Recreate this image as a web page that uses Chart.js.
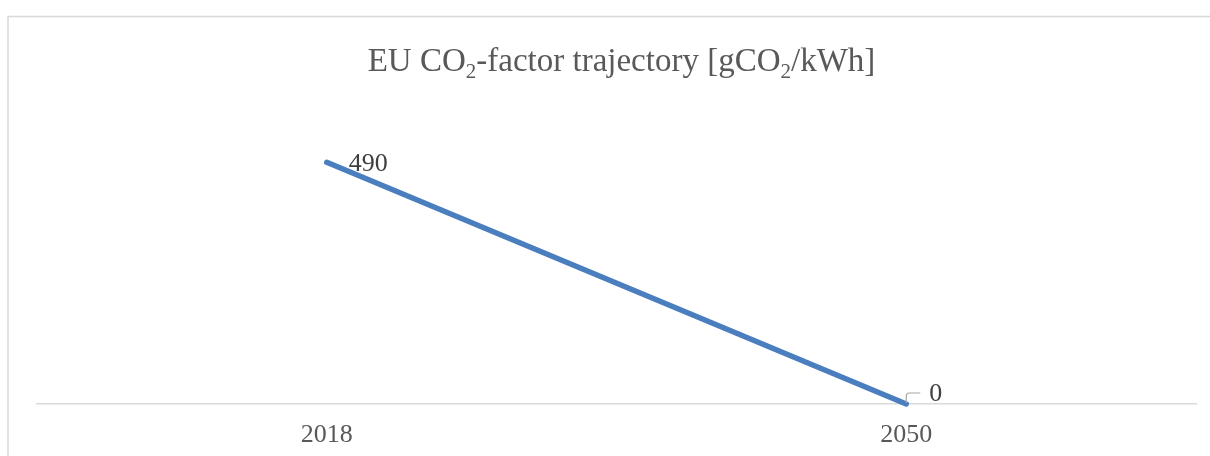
<!DOCTYPE html>
<html>
<head>
<meta charset="utf-8">
<script src="https://cdn.jsdelivr.net/npm/chart.js@4.4.1/dist/chart.umd.min.js"></script>
<style>
  html, body { margin: 0; padding: 0; background: #ffffff; }
  #wrap { width: 1210px; height: 456px; position: relative; }
</style>
</head>
<body>
<div id="wrap"><canvas id="c" width="1210" height="456"></canvas></div>
<script>
// Series data
const years = ['2018', '2050'];
const co2Factor = [490, 0];
const yMax = 600;

// Title pieces: [text, isSubscript]
const titleParts = [
  ['EU CO', false], ['2', true], ['-factor trajectory [gCO', false], ['2', true], ['/kWh]', false]
];

const SERIF = '"Liberation Serif", "DejaVu Serif", serif';

// White background and the light frame of the chart box
const framePlugin = {
  id: 'frame',
  beforeDraw(chart) {
    const ctx = chart.ctx;
    ctx.save();
    ctx.fillStyle = '#ffffff';
    ctx.fillRect(0, 0, chart.width, chart.height);
    ctx.strokeStyle = '#d9d9d9';
    ctx.lineWidth = 1.5;
    ctx.beginPath();
    ctx.moveTo(8, chart.height + 5);
    ctx.lineTo(8, 16.5);
    ctx.lineTo(chart.width + 5, 16.5);
    ctx.stroke();
    ctx.restore();
  }
};

// Title with subscripted "2"
const titlePlugin = {
  id: 'subTitle',
  afterDraw(chart) {
    const ctx = chart.ctx;
    const size = 33;
    const subSize = Math.round(size * 0.64);
    const mainFont = size + 'px ' + SERIF;
    const subFont = subSize + 'px ' + SERIF;
    ctx.save();
    let total = 0;
    titleParts.forEach(([t, sub]) => {
      ctx.font = sub ? subFont : mainFont;
      total += ctx.measureText(t).width;
    });
    let x = 621.5 - total / 2;
    const baseY = 71;
    ctx.fillStyle = '#595959';
    ctx.textBaseline = 'alphabetic';
    ctx.textAlign = 'left';
    titleParts.forEach(([t, sub]) => {
      ctx.font = sub ? subFont : mainFont;
      ctx.fillText(t, x, sub ? baseY + size * 0.2 : baseY);
      x += ctx.measureText(t).width;
    });
    ctx.restore();
  }
};

// Value labels beside each point; the last one gets a small leader line
const valueLabelPlugin = {
  id: 'valueLabels',
  afterDatasetsDraw(chart) {
    const ctx = chart.ctx;
    const meta = chart.getDatasetMeta(0);
    ctx.save();
    ctx.font = '26px ' + SERIF;
    ctx.fillStyle = '#404040';
    ctx.textAlign = 'left';
    ctx.textBaseline = 'middle';
    meta.data.forEach((pt, i) => {
      const v = chart.data.datasets[0].data[i];
      if (i === meta.data.length - 1) {
        ctx.strokeStyle = '#a6a6a6';
        ctx.lineWidth = 1.2;
        ctx.beginPath();
        ctx.moveTo(pt.x, pt.y - 1);
        ctx.lineTo(pt.x, pt.y - 8);
        ctx.quadraticCurveTo(pt.x, pt.y - 11, pt.x + 3, pt.y - 11);
        ctx.lineTo(pt.x + 14, pt.y - 11);
        ctx.stroke();
        ctx.fillText(String(v), pt.x + 23, pt.y - 9.5);
      } else {
        ctx.fillText(String(v), pt.x + 22, pt.y + 1.5);
      }
    });
    ctx.restore();
  }
};

new Chart(document.getElementById('c'), {
  type: 'line',
  data: {
    labels: years,
    datasets: [{
      label: 'EU CO2-factor',
      data: co2Factor,
      borderColor: '#4A7EBF',
      backgroundColor: '#4A7EBF',
      borderWidth: 5.5,
      borderCapStyle: 'round',
      pointRadius: 0,
      pointHoverRadius: 0,
      tension: 0,
      clip: false
    }]
  },
  options: {
    responsive: false,
    animation: false,
    devicePixelRatio: 1,
    layout: { padding: { left: 37, right: 14, top: 108, bottom: -10 } },
    plugins: {
      legend: { display: false },
      title: { display: false },
      tooltip: { enabled: false }
    },
    scales: {
      x: {
        type: 'category',
        offset: true,
        grid: { display: false, drawTicks: false },
        border: { display: true, color: '#d9d9d9', width: 1.5 },
        ticks: {
          color: '#595959',
          padding: 15.4,
          font: { family: SERIF, size: 26 }
        }
      },
      y: {
        display: false,
        min: 0,
        max: yMax
      }
    }
  },
  plugins: [framePlugin, titlePlugin, valueLabelPlugin]
});
</script>
</body>
</html>
